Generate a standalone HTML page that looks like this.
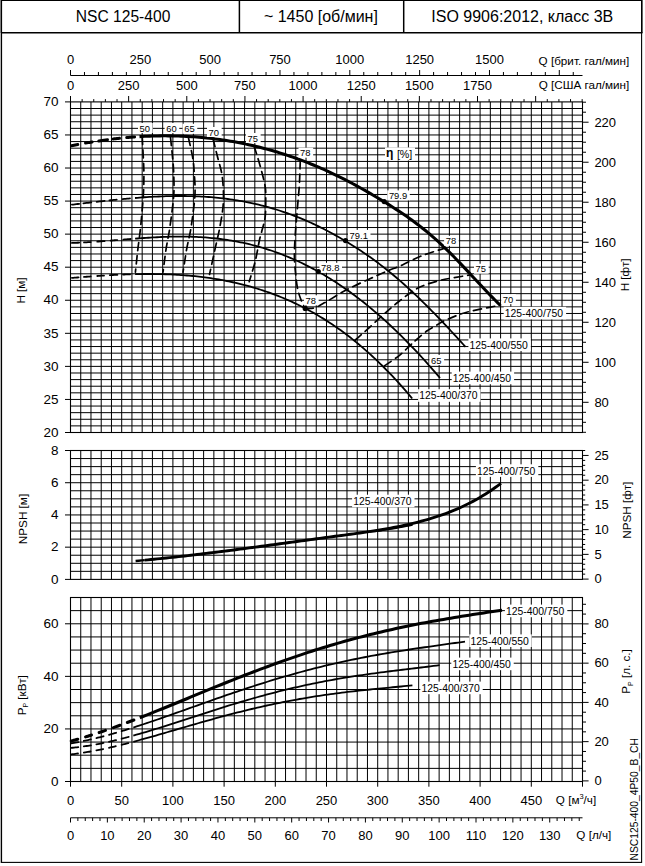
<!DOCTYPE html><html><head><meta charset="utf-8"><style>html,body{margin:0;padding:0;background:#fff}svg{display:block}</style></head><body><svg width="645" height="866" viewBox="0 0 645 866" font-family="'Liberation Sans', sans-serif" fill="#000"><rect x="0" y="0" width="645" height="866" fill="#fff"/>
<line x1="0.5" y1="0" x2="0.5" y2="33" stroke="#7c7c7c" stroke-width="1" />
<line x1="0.5" y1="33" x2="0.5" y2="863" stroke="#b4b4b4" stroke-width="1" />
<rect x="1.55" y="0.45" width="640.05" height="861.95" fill="none" stroke="#000" stroke-width="1.1"/>
<line x1="1" y1="32.7" x2="642.4" y2="32.7" stroke="#000" stroke-width="1.5" />
<line x1="239.4" y1="0" x2="239.4" y2="32.7" stroke="#000" stroke-width="1.5" />
<line x1="403.7" y1="0" x2="403.7" y2="32.7" stroke="#000" stroke-width="1.5" />
<line x1="641.8" y1="0" x2="641.8" y2="33" stroke="#000" stroke-width="1.5" />
<text x="123.1" y="22.3" font-size="15.6" text-anchor="middle" >NSC 125-400</text>
<text x="320.9" y="22.4" font-size="16" text-anchor="middle" >~ 1450 [об/мин]</text>
<text x="522.3" y="22.3" font-size="16" text-anchor="middle" >ISO 9906:2012, класс 3В</text>
<path d="M80.74,101.9V432.5M90.98,101.9V432.5M101.22,101.9V432.5M111.46,101.9V432.5M121.7,101.9V432.5M131.94,101.9V432.5M142.18,101.9V432.5M152.42,101.9V432.5M162.66,101.9V432.5M172.9,101.9V432.5M183.14,101.9V432.5M193.38,101.9V432.5M203.62,101.9V432.5M213.86,101.9V432.5M224.1,101.9V432.5M234.34,101.9V432.5M244.58,101.9V432.5M254.82,101.9V432.5M265.06,101.9V432.5M275.3,101.9V432.5M285.54,101.9V432.5M295.78,101.9V432.5M306.02,101.9V432.5M316.26,101.9V432.5M326.5,101.9V432.5M336.74,101.9V432.5M346.98,101.9V432.5M357.22,101.9V432.5M367.46,101.9V432.5M377.7,101.9V432.5M387.94,101.9V432.5M398.18,101.9V432.5M408.42,101.9V432.5M418.66,101.9V432.5M428.9,101.9V432.5M439.14,101.9V432.5M449.38,101.9V432.5M459.62,101.9V432.5M469.86,101.9V432.5M480.1,101.9V432.5M490.34,101.9V432.5M500.58,101.9V432.5M510.82,101.9V432.5M521.06,101.9V432.5M531.3,101.9V432.5M541.54,101.9V432.5M551.78,101.9V432.5M562.02,101.9V432.5M572.26,101.9V432.5M70.5,425.89H582.5M70.5,419.28H582.5M70.5,412.66H582.5M70.5,406.05H582.5M70.5,399.44H582.5M70.5,392.83H582.5M70.5,386.22H582.5M70.5,379.6H582.5M70.5,372.99H582.5M70.5,366.38H582.5M70.5,359.77H582.5M70.5,353.16H582.5M70.5,346.54H582.5M70.5,339.93H582.5M70.5,333.32H582.5M70.5,326.71H582.5M70.5,320.1H582.5M70.5,313.48H582.5M70.5,306.87H582.5M70.5,300.26H582.5M70.5,293.65H582.5M70.5,287.04H582.5M70.5,280.42H582.5M70.5,273.81H582.5M70.5,267.2H582.5M70.5,260.59H582.5M70.5,253.98H582.5M70.5,247.36H582.5M70.5,240.75H582.5M70.5,234.14H582.5M70.5,227.53H582.5M70.5,220.92H582.5M70.5,214.3H582.5M70.5,207.69H582.5M70.5,201.08H582.5M70.5,194.47H582.5M70.5,187.86H582.5M70.5,181.24H582.5M70.5,174.63H582.5M70.5,168.02H582.5M70.5,161.41H582.5M70.5,154.8H582.5M70.5,148.18H582.5M70.5,141.57H582.5M70.5,134.96H582.5M70.5,128.35H582.5M70.5,121.74H582.5M70.5,115.12H582.5M70.5,108.51H582.5" stroke="#000" stroke-width="1" fill="none"/>
<rect x="70.5" y="101.9" width="512" height="330.6" fill="none" stroke="#000" stroke-width="1.1"/>
<path d="M80.74,450.5V579.4M90.98,450.5V579.4M101.22,450.5V579.4M111.46,450.5V579.4M121.7,450.5V579.4M131.94,450.5V579.4M142.18,450.5V579.4M152.42,450.5V579.4M162.66,450.5V579.4M172.9,450.5V579.4M183.14,450.5V579.4M193.38,450.5V579.4M203.62,450.5V579.4M213.86,450.5V579.4M224.1,450.5V579.4M234.34,450.5V579.4M244.58,450.5V579.4M254.82,450.5V579.4M265.06,450.5V579.4M275.3,450.5V579.4M285.54,450.5V579.4M295.78,450.5V579.4M306.02,450.5V579.4M316.26,450.5V579.4M326.5,450.5V579.4M336.74,450.5V579.4M346.98,450.5V579.4M357.22,450.5V579.4M367.46,450.5V579.4M377.7,450.5V579.4M387.94,450.5V579.4M398.18,450.5V579.4M408.42,450.5V579.4M418.66,450.5V579.4M428.9,450.5V579.4M439.14,450.5V579.4M449.38,450.5V579.4M459.62,450.5V579.4M469.86,450.5V579.4M480.1,450.5V579.4M490.34,450.5V579.4M500.58,450.5V579.4M510.82,450.5V579.4M521.06,450.5V579.4M531.3,450.5V579.4M541.54,450.5V579.4M551.78,450.5V579.4M562.02,450.5V579.4M572.26,450.5V579.4M70.5,571.34H582.5M70.5,563.29H582.5M70.5,555.23H582.5M70.5,547.17H582.5M70.5,539.12H582.5M70.5,531.06H582.5M70.5,523.01H582.5M70.5,514.95H582.5M70.5,506.89H582.5M70.5,498.84H582.5M70.5,490.78H582.5M70.5,482.73H582.5M70.5,474.67H582.5M70.5,466.61H582.5M70.5,458.56H582.5" stroke="#000" stroke-width="1" fill="none"/>
<rect x="70.5" y="450.5" width="512" height="128.9" fill="none" stroke="#000" stroke-width="1.1"/>
<path d="M80.74,597.5V781.5M90.98,597.5V781.5M101.22,597.5V781.5M111.46,597.5V781.5M121.7,597.5V781.5M131.94,597.5V781.5M142.18,597.5V781.5M152.42,597.5V781.5M162.66,597.5V781.5M172.9,597.5V781.5M183.14,597.5V781.5M193.38,597.5V781.5M203.62,597.5V781.5M213.86,597.5V781.5M224.1,597.5V781.5M234.34,597.5V781.5M244.58,597.5V781.5M254.82,597.5V781.5M265.06,597.5V781.5M275.3,597.5V781.5M285.54,597.5V781.5M295.78,597.5V781.5M306.02,597.5V781.5M316.26,597.5V781.5M326.5,597.5V781.5M336.74,597.5V781.5M346.98,597.5V781.5M357.22,597.5V781.5M367.46,597.5V781.5M377.7,597.5V781.5M387.94,597.5V781.5M398.18,597.5V781.5M408.42,597.5V781.5M418.66,597.5V781.5M428.9,597.5V781.5M439.14,597.5V781.5M449.38,597.5V781.5M459.62,597.5V781.5M469.86,597.5V781.5M480.1,597.5V781.5M490.34,597.5V781.5M500.58,597.5V781.5M510.82,597.5V781.5M521.06,597.5V781.5M531.3,597.5V781.5M541.54,597.5V781.5M551.78,597.5V781.5M562.02,597.5V781.5M572.26,597.5V781.5M70.5,768.36H582.5M70.5,755.21H582.5M70.5,742.07H582.5M70.5,728.93H582.5M70.5,715.79H582.5M70.5,702.64H582.5M70.5,689.5H582.5M70.5,676.36H582.5M70.5,663.21H582.5M70.5,650.07H582.5M70.5,636.93H582.5M70.5,623.79H582.5M70.5,610.64H582.5" stroke="#000" stroke-width="1" fill="none"/>
<rect x="70.5" y="597.5" width="512" height="184" fill="none" stroke="#000" stroke-width="1.1"/>
<line x1="70.5" y1="75.5" x2="582.5" y2="75.5" stroke="#000" stroke-width="1" />
<line x1="70.5" y1="75.5" x2="70.5" y2="70" stroke="#000" stroke-width="1" />
<text x="70.5" y="64.3" font-size="13" text-anchor="middle" >0</text>
<line x1="84.47" y1="75.5" x2="84.47" y2="72" stroke="#000" stroke-width="1" />
<line x1="98.43" y1="75.5" x2="98.43" y2="72" stroke="#000" stroke-width="1" />
<line x1="112.4" y1="75.5" x2="112.4" y2="72" stroke="#000" stroke-width="1" />
<line x1="126.36" y1="75.5" x2="126.36" y2="72" stroke="#000" stroke-width="1" />
<line x1="140.33" y1="75.5" x2="140.33" y2="70" stroke="#000" stroke-width="1" />
<text x="140.33" y="64.3" font-size="13" text-anchor="middle" >250</text>
<line x1="154.29" y1="75.5" x2="154.29" y2="72" stroke="#000" stroke-width="1" />
<line x1="168.26" y1="75.5" x2="168.26" y2="72" stroke="#000" stroke-width="1" />
<line x1="182.22" y1="75.5" x2="182.22" y2="72" stroke="#000" stroke-width="1" />
<line x1="196.19" y1="75.5" x2="196.19" y2="72" stroke="#000" stroke-width="1" />
<line x1="210.16" y1="75.5" x2="210.16" y2="70" stroke="#000" stroke-width="1" />
<text x="210.16" y="64.3" font-size="13" text-anchor="middle" >500</text>
<line x1="224.12" y1="75.5" x2="224.12" y2="72" stroke="#000" stroke-width="1" />
<line x1="238.09" y1="75.5" x2="238.09" y2="72" stroke="#000" stroke-width="1" />
<line x1="252.05" y1="75.5" x2="252.05" y2="72" stroke="#000" stroke-width="1" />
<line x1="266.02" y1="75.5" x2="266.02" y2="72" stroke="#000" stroke-width="1" />
<line x1="279.98" y1="75.5" x2="279.98" y2="70" stroke="#000" stroke-width="1" />
<text x="279.98" y="64.3" font-size="13" text-anchor="middle" >750</text>
<line x1="293.95" y1="75.5" x2="293.95" y2="72" stroke="#000" stroke-width="1" />
<line x1="307.91" y1="75.5" x2="307.91" y2="72" stroke="#000" stroke-width="1" />
<line x1="321.88" y1="75.5" x2="321.88" y2="72" stroke="#000" stroke-width="1" />
<line x1="335.85" y1="75.5" x2="335.85" y2="72" stroke="#000" stroke-width="1" />
<line x1="349.81" y1="75.5" x2="349.81" y2="70" stroke="#000" stroke-width="1" />
<text x="349.81" y="64.3" font-size="13" text-anchor="middle" >1000</text>
<line x1="363.78" y1="75.5" x2="363.78" y2="72" stroke="#000" stroke-width="1" />
<line x1="377.74" y1="75.5" x2="377.74" y2="72" stroke="#000" stroke-width="1" />
<line x1="391.71" y1="75.5" x2="391.71" y2="72" stroke="#000" stroke-width="1" />
<line x1="405.67" y1="75.5" x2="405.67" y2="72" stroke="#000" stroke-width="1" />
<line x1="419.64" y1="75.5" x2="419.64" y2="70" stroke="#000" stroke-width="1" />
<text x="419.64" y="64.3" font-size="13" text-anchor="middle" >1250</text>
<line x1="433.6" y1="75.5" x2="433.6" y2="72" stroke="#000" stroke-width="1" />
<line x1="447.57" y1="75.5" x2="447.57" y2="72" stroke="#000" stroke-width="1" />
<line x1="461.54" y1="75.5" x2="461.54" y2="72" stroke="#000" stroke-width="1" />
<line x1="475.5" y1="75.5" x2="475.5" y2="72" stroke="#000" stroke-width="1" />
<line x1="489.47" y1="75.5" x2="489.47" y2="70" stroke="#000" stroke-width="1" />
<text x="489.47" y="64.3" font-size="13" text-anchor="middle" >1500</text>
<line x1="503.43" y1="75.5" x2="503.43" y2="72" stroke="#000" stroke-width="1" />
<line x1="517.4" y1="75.5" x2="517.4" y2="72" stroke="#000" stroke-width="1" />
<line x1="531.36" y1="75.5" x2="531.36" y2="72" stroke="#000" stroke-width="1" />
<line x1="545.33" y1="75.5" x2="545.33" y2="72" stroke="#000" stroke-width="1" />
<line x1="559.29" y1="75.5" x2="559.29" y2="70" stroke="#000" stroke-width="1" />
<line x1="573.26" y1="75.5" x2="573.26" y2="72" stroke="#000" stroke-width="1" />
<text x="629.3" y="64.5" font-size="11.7" text-anchor="end" >Q [брит. гал/мин]</text>
<line x1="70.5" y1="101.9" x2="70.5" y2="96" stroke="#000" stroke-width="1" />
<text x="70.5" y="89.5" font-size="13" text-anchor="middle" >0</text>
<line x1="82.13" y1="101.9" x2="82.13" y2="99.1" stroke="#000" stroke-width="1" />
<line x1="93.76" y1="101.9" x2="93.76" y2="99.1" stroke="#000" stroke-width="1" />
<line x1="105.39" y1="101.9" x2="105.39" y2="99.1" stroke="#000" stroke-width="1" />
<line x1="117.02" y1="101.9" x2="117.02" y2="99.1" stroke="#000" stroke-width="1" />
<line x1="128.64" y1="101.9" x2="128.64" y2="96" stroke="#000" stroke-width="1" />
<text x="128.64" y="89.5" font-size="13" text-anchor="middle" >250</text>
<line x1="140.27" y1="101.9" x2="140.27" y2="99.1" stroke="#000" stroke-width="1" />
<line x1="151.9" y1="101.9" x2="151.9" y2="99.1" stroke="#000" stroke-width="1" />
<line x1="163.53" y1="101.9" x2="163.53" y2="99.1" stroke="#000" stroke-width="1" />
<line x1="175.16" y1="101.9" x2="175.16" y2="99.1" stroke="#000" stroke-width="1" />
<line x1="186.79" y1="101.9" x2="186.79" y2="96" stroke="#000" stroke-width="1" />
<text x="186.79" y="89.5" font-size="13" text-anchor="middle" >500</text>
<line x1="198.42" y1="101.9" x2="198.42" y2="99.1" stroke="#000" stroke-width="1" />
<line x1="210.05" y1="101.9" x2="210.05" y2="99.1" stroke="#000" stroke-width="1" />
<line x1="221.67" y1="101.9" x2="221.67" y2="99.1" stroke="#000" stroke-width="1" />
<line x1="233.3" y1="101.9" x2="233.3" y2="99.1" stroke="#000" stroke-width="1" />
<line x1="244.93" y1="101.9" x2="244.93" y2="96" stroke="#000" stroke-width="1" />
<text x="244.93" y="89.5" font-size="13" text-anchor="middle" >750</text>
<line x1="256.56" y1="101.9" x2="256.56" y2="99.1" stroke="#000" stroke-width="1" />
<line x1="268.19" y1="101.9" x2="268.19" y2="99.1" stroke="#000" stroke-width="1" />
<line x1="279.82" y1="101.9" x2="279.82" y2="99.1" stroke="#000" stroke-width="1" />
<line x1="291.45" y1="101.9" x2="291.45" y2="99.1" stroke="#000" stroke-width="1" />
<line x1="303.08" y1="101.9" x2="303.08" y2="96" stroke="#000" stroke-width="1" />
<text x="303.08" y="89.5" font-size="13" text-anchor="middle" >1000</text>
<line x1="314.7" y1="101.9" x2="314.7" y2="99.1" stroke="#000" stroke-width="1" />
<line x1="326.33" y1="101.9" x2="326.33" y2="99.1" stroke="#000" stroke-width="1" />
<line x1="337.96" y1="101.9" x2="337.96" y2="99.1" stroke="#000" stroke-width="1" />
<line x1="349.59" y1="101.9" x2="349.59" y2="99.1" stroke="#000" stroke-width="1" />
<line x1="361.22" y1="101.9" x2="361.22" y2="96" stroke="#000" stroke-width="1" />
<text x="361.22" y="89.5" font-size="13" text-anchor="middle" >1250</text>
<line x1="372.85" y1="101.9" x2="372.85" y2="99.1" stroke="#000" stroke-width="1" />
<line x1="384.48" y1="101.9" x2="384.48" y2="99.1" stroke="#000" stroke-width="1" />
<line x1="396.11" y1="101.9" x2="396.11" y2="99.1" stroke="#000" stroke-width="1" />
<line x1="407.74" y1="101.9" x2="407.74" y2="99.1" stroke="#000" stroke-width="1" />
<line x1="419.36" y1="101.9" x2="419.36" y2="96" stroke="#000" stroke-width="1" />
<text x="419.36" y="89.5" font-size="13" text-anchor="middle" >1500</text>
<line x1="430.99" y1="101.9" x2="430.99" y2="99.1" stroke="#000" stroke-width="1" />
<line x1="442.62" y1="101.9" x2="442.62" y2="99.1" stroke="#000" stroke-width="1" />
<line x1="454.25" y1="101.9" x2="454.25" y2="99.1" stroke="#000" stroke-width="1" />
<line x1="465.88" y1="101.9" x2="465.88" y2="99.1" stroke="#000" stroke-width="1" />
<line x1="477.51" y1="101.9" x2="477.51" y2="96" stroke="#000" stroke-width="1" />
<text x="477.51" y="89.5" font-size="13" text-anchor="middle" >1750</text>
<line x1="489.14" y1="101.9" x2="489.14" y2="99.1" stroke="#000" stroke-width="1" />
<line x1="500.77" y1="101.9" x2="500.77" y2="99.1" stroke="#000" stroke-width="1" />
<line x1="512.39" y1="101.9" x2="512.39" y2="99.1" stroke="#000" stroke-width="1" />
<line x1="524.02" y1="101.9" x2="524.02" y2="99.1" stroke="#000" stroke-width="1" />
<line x1="535.65" y1="101.9" x2="535.65" y2="96" stroke="#000" stroke-width="1" />
<line x1="547.28" y1="101.9" x2="547.28" y2="99.1" stroke="#000" stroke-width="1" />
<line x1="558.91" y1="101.9" x2="558.91" y2="99.1" stroke="#000" stroke-width="1" />
<line x1="570.54" y1="101.9" x2="570.54" y2="99.1" stroke="#000" stroke-width="1" />
<line x1="582.17" y1="101.9" x2="582.17" y2="99.1" stroke="#000" stroke-width="1" />
<text x="629.3" y="88.5" font-size="11.7" text-anchor="end" >Q [США гал/мин]</text>
<line x1="65" y1="432.5" x2="70.5" y2="432.5" stroke="#000" stroke-width="1" />
<text x="58.6" y="436.7" font-size="13.5" text-anchor="end" >20</text>
<line x1="65" y1="399.44" x2="70.5" y2="399.44" stroke="#000" stroke-width="1" />
<text x="58.6" y="403.64" font-size="13.5" text-anchor="end" >25</text>
<line x1="65" y1="366.38" x2="70.5" y2="366.38" stroke="#000" stroke-width="1" />
<text x="58.6" y="370.58" font-size="13.5" text-anchor="end" >30</text>
<line x1="65" y1="333.32" x2="70.5" y2="333.32" stroke="#000" stroke-width="1" />
<text x="58.6" y="337.52" font-size="13.5" text-anchor="end" >35</text>
<line x1="65" y1="300.26" x2="70.5" y2="300.26" stroke="#000" stroke-width="1" />
<text x="58.6" y="304.46" font-size="13.5" text-anchor="end" >40</text>
<line x1="65" y1="267.2" x2="70.5" y2="267.2" stroke="#000" stroke-width="1" />
<text x="58.6" y="271.4" font-size="13.5" text-anchor="end" >45</text>
<line x1="65" y1="234.14" x2="70.5" y2="234.14" stroke="#000" stroke-width="1" />
<text x="58.6" y="238.34" font-size="13.5" text-anchor="end" >50</text>
<line x1="65" y1="201.08" x2="70.5" y2="201.08" stroke="#000" stroke-width="1" />
<text x="58.6" y="205.28" font-size="13.5" text-anchor="end" >55</text>
<line x1="65" y1="168.02" x2="70.5" y2="168.02" stroke="#000" stroke-width="1" />
<text x="58.6" y="172.22" font-size="13.5" text-anchor="end" >60</text>
<line x1="65" y1="134.96" x2="70.5" y2="134.96" stroke="#000" stroke-width="1" />
<text x="58.6" y="139.16" font-size="13.5" text-anchor="end" >65</text>
<line x1="65" y1="101.9" x2="70.5" y2="101.9" stroke="#000" stroke-width="1" />
<text x="58.6" y="106.1" font-size="13.5" text-anchor="end" >70</text>
<line x1="582.5" y1="432.31" x2="586" y2="432.31" stroke="#000" stroke-width="1" />
<line x1="582.5" y1="422.31" x2="586" y2="422.31" stroke="#000" stroke-width="1" />
<line x1="582.5" y1="412.31" x2="586" y2="412.31" stroke="#000" stroke-width="1" />
<line x1="582.5" y1="402.3" x2="588.6" y2="402.3" stroke="#000" stroke-width="1" />
<text x="594.4" y="406.6" font-size="13" text-anchor="start" >80</text>
<line x1="582.5" y1="392.3" x2="586" y2="392.3" stroke="#000" stroke-width="1" />
<line x1="582.5" y1="382.3" x2="586" y2="382.3" stroke="#000" stroke-width="1" />
<line x1="582.5" y1="372.29" x2="586" y2="372.29" stroke="#000" stroke-width="1" />
<line x1="582.5" y1="362.29" x2="588.6" y2="362.29" stroke="#000" stroke-width="1" />
<text x="594.4" y="366.59" font-size="13" text-anchor="start" >100</text>
<line x1="582.5" y1="352.29" x2="586" y2="352.29" stroke="#000" stroke-width="1" />
<line x1="582.5" y1="342.28" x2="586" y2="342.28" stroke="#000" stroke-width="1" />
<line x1="582.5" y1="332.28" x2="586" y2="332.28" stroke="#000" stroke-width="1" />
<line x1="582.5" y1="322.28" x2="588.6" y2="322.28" stroke="#000" stroke-width="1" />
<text x="594.4" y="326.58" font-size="13" text-anchor="start" >120</text>
<line x1="582.5" y1="312.27" x2="586" y2="312.27" stroke="#000" stroke-width="1" />
<line x1="582.5" y1="302.27" x2="586" y2="302.27" stroke="#000" stroke-width="1" />
<line x1="582.5" y1="292.27" x2="586" y2="292.27" stroke="#000" stroke-width="1" />
<line x1="582.5" y1="282.26" x2="588.6" y2="282.26" stroke="#000" stroke-width="1" />
<text x="594.4" y="286.56" font-size="13" text-anchor="start" >140</text>
<line x1="582.5" y1="272.26" x2="586" y2="272.26" stroke="#000" stroke-width="1" />
<line x1="582.5" y1="262.25" x2="586" y2="262.25" stroke="#000" stroke-width="1" />
<line x1="582.5" y1="252.25" x2="586" y2="252.25" stroke="#000" stroke-width="1" />
<line x1="582.5" y1="242.25" x2="588.6" y2="242.25" stroke="#000" stroke-width="1" />
<text x="594.4" y="246.55" font-size="13" text-anchor="start" >160</text>
<line x1="582.5" y1="232.24" x2="586" y2="232.24" stroke="#000" stroke-width="1" />
<line x1="582.5" y1="222.24" x2="586" y2="222.24" stroke="#000" stroke-width="1" />
<line x1="582.5" y1="212.24" x2="586" y2="212.24" stroke="#000" stroke-width="1" />
<line x1="582.5" y1="202.23" x2="588.6" y2="202.23" stroke="#000" stroke-width="1" />
<text x="594.4" y="206.53" font-size="13" text-anchor="start" >180</text>
<line x1="582.5" y1="192.23" x2="586" y2="192.23" stroke="#000" stroke-width="1" />
<line x1="582.5" y1="182.23" x2="586" y2="182.23" stroke="#000" stroke-width="1" />
<line x1="582.5" y1="172.22" x2="586" y2="172.22" stroke="#000" stroke-width="1" />
<line x1="582.5" y1="162.22" x2="588.6" y2="162.22" stroke="#000" stroke-width="1" />
<text x="594.4" y="166.52" font-size="13" text-anchor="start" >200</text>
<line x1="582.5" y1="152.22" x2="586" y2="152.22" stroke="#000" stroke-width="1" />
<line x1="582.5" y1="142.21" x2="586" y2="142.21" stroke="#000" stroke-width="1" />
<line x1="582.5" y1="132.21" x2="586" y2="132.21" stroke="#000" stroke-width="1" />
<line x1="582.5" y1="122.21" x2="588.6" y2="122.21" stroke="#000" stroke-width="1" />
<text x="594.4" y="126.51" font-size="13" text-anchor="start" >220</text>
<line x1="582.5" y1="112.2" x2="586" y2="112.2" stroke="#000" stroke-width="1" />
<line x1="582.5" y1="102.2" x2="586" y2="102.2" stroke="#000" stroke-width="1" />
<text x="0" y="0" font-size="11.7" text-anchor="middle" transform="translate(25.1,290.5) rotate(-90)">H [м]</text>
<text x="0" y="0" font-size="11.7" text-anchor="middle" transform="translate(629.4,274.9) rotate(-90)">H [фт]</text>
<line x1="65" y1="579.4" x2="70.5" y2="579.4" stroke="#000" stroke-width="1" />
<text x="58.6" y="583.6" font-size="13.5" text-anchor="end" >0</text>
<line x1="65" y1="547.17" x2="70.5" y2="547.17" stroke="#000" stroke-width="1" />
<text x="58.6" y="551.38" font-size="13.5" text-anchor="end" >2</text>
<line x1="65" y1="514.95" x2="70.5" y2="514.95" stroke="#000" stroke-width="1" />
<text x="58.6" y="519.15" font-size="13.5" text-anchor="end" >4</text>
<line x1="65" y1="482.73" x2="70.5" y2="482.73" stroke="#000" stroke-width="1" />
<text x="58.6" y="486.93" font-size="13.5" text-anchor="end" >6</text>
<line x1="65" y1="450.5" x2="70.5" y2="450.5" stroke="#000" stroke-width="1" />
<text x="58.6" y="454.7" font-size="13.5" text-anchor="end" >8</text>
<line x1="582.5" y1="579.1" x2="588.6" y2="579.1" stroke="#000" stroke-width="1" />
<text x="594.4" y="583.4" font-size="13" text-anchor="start" >0</text>
<line x1="582.5" y1="574.15" x2="585.2" y2="574.15" stroke="#000" stroke-width="1" />
<line x1="582.5" y1="569.21" x2="585.2" y2="569.21" stroke="#000" stroke-width="1" />
<line x1="582.5" y1="564.26" x2="585.2" y2="564.26" stroke="#000" stroke-width="1" />
<line x1="582.5" y1="559.32" x2="585.2" y2="559.32" stroke="#000" stroke-width="1" />
<line x1="582.5" y1="554.37" x2="588.6" y2="554.37" stroke="#000" stroke-width="1" />
<text x="594.4" y="558.67" font-size="13" text-anchor="start" >5</text>
<line x1="582.5" y1="549.42" x2="585.2" y2="549.42" stroke="#000" stroke-width="1" />
<line x1="582.5" y1="544.48" x2="585.2" y2="544.48" stroke="#000" stroke-width="1" />
<line x1="582.5" y1="539.53" x2="585.2" y2="539.53" stroke="#000" stroke-width="1" />
<line x1="582.5" y1="534.59" x2="585.2" y2="534.59" stroke="#000" stroke-width="1" />
<line x1="582.5" y1="529.64" x2="588.6" y2="529.64" stroke="#000" stroke-width="1" />
<text x="594.4" y="533.94" font-size="13" text-anchor="start" >10</text>
<line x1="582.5" y1="524.69" x2="585.2" y2="524.69" stroke="#000" stroke-width="1" />
<line x1="582.5" y1="519.75" x2="585.2" y2="519.75" stroke="#000" stroke-width="1" />
<line x1="582.5" y1="514.8" x2="585.2" y2="514.8" stroke="#000" stroke-width="1" />
<line x1="582.5" y1="509.86" x2="585.2" y2="509.86" stroke="#000" stroke-width="1" />
<line x1="582.5" y1="504.91" x2="588.6" y2="504.91" stroke="#000" stroke-width="1" />
<text x="594.4" y="509.21" font-size="13" text-anchor="start" >15</text>
<line x1="582.5" y1="499.96" x2="585.2" y2="499.96" stroke="#000" stroke-width="1" />
<line x1="582.5" y1="495.02" x2="585.2" y2="495.02" stroke="#000" stroke-width="1" />
<line x1="582.5" y1="490.07" x2="585.2" y2="490.07" stroke="#000" stroke-width="1" />
<line x1="582.5" y1="485.13" x2="585.2" y2="485.13" stroke="#000" stroke-width="1" />
<line x1="582.5" y1="480.18" x2="588.6" y2="480.18" stroke="#000" stroke-width="1" />
<text x="594.4" y="484.48" font-size="13" text-anchor="start" >20</text>
<line x1="582.5" y1="475.23" x2="585.2" y2="475.23" stroke="#000" stroke-width="1" />
<line x1="582.5" y1="470.29" x2="585.2" y2="470.29" stroke="#000" stroke-width="1" />
<line x1="582.5" y1="465.34" x2="585.2" y2="465.34" stroke="#000" stroke-width="1" />
<line x1="582.5" y1="460.4" x2="585.2" y2="460.4" stroke="#000" stroke-width="1" />
<line x1="582.5" y1="455.45" x2="588.6" y2="455.45" stroke="#000" stroke-width="1" />
<text x="594.4" y="459.75" font-size="13" text-anchor="start" >25</text>
<line x1="582.5" y1="450.5" x2="585.2" y2="450.5" stroke="#000" stroke-width="1" />
<text x="0" y="0" font-size="11.7" text-anchor="middle" transform="translate(26.6,519) rotate(-90)">NPSH [м]</text>
<text x="0" y="0" font-size="11.7" text-anchor="middle" transform="translate(630.8,510.2) rotate(-90)">NPSH [фт]</text>
<line x1="65" y1="781.5" x2="70.5" y2="781.5" stroke="#000" stroke-width="1" />
<text x="58.6" y="785.7" font-size="13.5" text-anchor="end" >0</text>
<line x1="65" y1="728.93" x2="70.5" y2="728.93" stroke="#000" stroke-width="1" />
<text x="58.6" y="733.13" font-size="13.5" text-anchor="end" >20</text>
<line x1="65" y1="676.36" x2="70.5" y2="676.36" stroke="#000" stroke-width="1" />
<text x="58.6" y="680.56" font-size="13.5" text-anchor="end" >40</text>
<line x1="65" y1="623.79" x2="70.5" y2="623.79" stroke="#000" stroke-width="1" />
<text x="58.6" y="627.99" font-size="13.5" text-anchor="end" >60</text>
<line x1="582.5" y1="780.9" x2="588.6" y2="780.9" stroke="#000" stroke-width="1" />
<text x="594.4" y="785.2" font-size="13" text-anchor="start" >0</text>
<line x1="582.5" y1="771.09" x2="586" y2="771.09" stroke="#000" stroke-width="1" />
<line x1="582.5" y1="761.27" x2="586" y2="761.27" stroke="#000" stroke-width="1" />
<line x1="582.5" y1="751.46" x2="586" y2="751.46" stroke="#000" stroke-width="1" />
<line x1="582.5" y1="741.65" x2="588.6" y2="741.65" stroke="#000" stroke-width="1" />
<text x="594.4" y="745.95" font-size="13" text-anchor="start" >20</text>
<line x1="582.5" y1="731.84" x2="586" y2="731.84" stroke="#000" stroke-width="1" />
<line x1="582.5" y1="722.02" x2="586" y2="722.02" stroke="#000" stroke-width="1" />
<line x1="582.5" y1="712.21" x2="586" y2="712.21" stroke="#000" stroke-width="1" />
<line x1="582.5" y1="702.4" x2="588.6" y2="702.4" stroke="#000" stroke-width="1" />
<text x="594.4" y="706.7" font-size="13" text-anchor="start" >40</text>
<line x1="582.5" y1="692.59" x2="586" y2="692.59" stroke="#000" stroke-width="1" />
<line x1="582.5" y1="682.77" x2="586" y2="682.77" stroke="#000" stroke-width="1" />
<line x1="582.5" y1="672.96" x2="586" y2="672.96" stroke="#000" stroke-width="1" />
<line x1="582.5" y1="663.15" x2="588.6" y2="663.15" stroke="#000" stroke-width="1" />
<text x="594.4" y="667.45" font-size="13" text-anchor="start" >60</text>
<line x1="582.5" y1="653.34" x2="586" y2="653.34" stroke="#000" stroke-width="1" />
<line x1="582.5" y1="643.52" x2="586" y2="643.52" stroke="#000" stroke-width="1" />
<line x1="582.5" y1="633.71" x2="586" y2="633.71" stroke="#000" stroke-width="1" />
<line x1="582.5" y1="623.9" x2="588.6" y2="623.9" stroke="#000" stroke-width="1" />
<text x="594.4" y="628.2" font-size="13" text-anchor="start" >80</text>
<line x1="582.5" y1="614.09" x2="586" y2="614.09" stroke="#000" stroke-width="1" />
<line x1="582.5" y1="604.27" x2="586" y2="604.27" stroke="#000" stroke-width="1" />
<text transform="translate(25.9,695.3) rotate(-90)" font-size="11.7" text-anchor="middle">P<tspan font-size="7" dy="2.5">P</tspan><tspan dy="-2.5"> [кВт]</tspan></text>
<text transform="translate(630.4,671.5) rotate(-90)" font-size="11.7" text-anchor="middle">P<tspan font-size="7" dy="2.5">P</tspan><tspan dy="-2.5"> [л. с.]</tspan></text>
<line x1="70.5" y1="781.5" x2="70.5" y2="786.7" stroke="#000" stroke-width="1" />
<text x="70.5" y="805.2" font-size="13" text-anchor="middle" >0</text>
<line x1="121.7" y1="781.5" x2="121.7" y2="786.7" stroke="#000" stroke-width="1" />
<text x="121.7" y="805.2" font-size="13" text-anchor="middle" >50</text>
<line x1="172.9" y1="781.5" x2="172.9" y2="786.7" stroke="#000" stroke-width="1" />
<text x="172.9" y="805.2" font-size="13" text-anchor="middle" >100</text>
<line x1="224.1" y1="781.5" x2="224.1" y2="786.7" stroke="#000" stroke-width="1" />
<text x="224.1" y="805.2" font-size="13" text-anchor="middle" >150</text>
<line x1="275.3" y1="781.5" x2="275.3" y2="786.7" stroke="#000" stroke-width="1" />
<text x="275.3" y="805.2" font-size="13" text-anchor="middle" >200</text>
<line x1="326.5" y1="781.5" x2="326.5" y2="786.7" stroke="#000" stroke-width="1" />
<text x="326.5" y="805.2" font-size="13" text-anchor="middle" >250</text>
<line x1="377.7" y1="781.5" x2="377.7" y2="786.7" stroke="#000" stroke-width="1" />
<text x="377.7" y="805.2" font-size="13" text-anchor="middle" >300</text>
<line x1="428.9" y1="781.5" x2="428.9" y2="786.7" stroke="#000" stroke-width="1" />
<text x="428.9" y="805.2" font-size="13" text-anchor="middle" >350</text>
<line x1="480.1" y1="781.5" x2="480.1" y2="786.7" stroke="#000" stroke-width="1" />
<text x="480.1" y="805.2" font-size="13" text-anchor="middle" >400</text>
<line x1="531.3" y1="781.5" x2="531.3" y2="786.7" stroke="#000" stroke-width="1" />
<text x="531.3" y="805.2" font-size="13" text-anchor="middle" >450</text>
<line x1="582.5" y1="781.5" x2="582.5" y2="786.7" stroke="#000" stroke-width="1" />
<text x="555.8" y="803.8" font-size="11.7">Q [м<tspan font-size="7.5" dy="-4.5">3</tspan><tspan dy="4.5">/ч]</tspan></text>
<line x1="70.5" y1="817.8" x2="582.5" y2="817.8" stroke="#000" stroke-width="1" />
<line x1="70.5" y1="817.8" x2="70.5" y2="822.5" stroke="#000" stroke-width="1" />
<text x="70.5" y="840.2" font-size="13" text-anchor="middle" >0</text>
<line x1="77.87" y1="817.8" x2="77.87" y2="821" stroke="#000" stroke-width="1" />
<line x1="85.25" y1="817.8" x2="85.25" y2="821" stroke="#000" stroke-width="1" />
<line x1="92.62" y1="817.8" x2="92.62" y2="821" stroke="#000" stroke-width="1" />
<line x1="99.99" y1="817.8" x2="99.99" y2="821" stroke="#000" stroke-width="1" />
<line x1="107.36" y1="817.8" x2="107.36" y2="822.5" stroke="#000" stroke-width="1" />
<text x="107.36" y="840.2" font-size="13" text-anchor="middle" >10</text>
<line x1="114.74" y1="817.8" x2="114.74" y2="821" stroke="#000" stroke-width="1" />
<line x1="122.11" y1="817.8" x2="122.11" y2="821" stroke="#000" stroke-width="1" />
<line x1="129.48" y1="817.8" x2="129.48" y2="821" stroke="#000" stroke-width="1" />
<line x1="136.86" y1="817.8" x2="136.86" y2="821" stroke="#000" stroke-width="1" />
<line x1="144.23" y1="817.8" x2="144.23" y2="822.5" stroke="#000" stroke-width="1" />
<text x="144.23" y="840.2" font-size="13" text-anchor="middle" >20</text>
<line x1="151.6" y1="817.8" x2="151.6" y2="821" stroke="#000" stroke-width="1" />
<line x1="158.97" y1="817.8" x2="158.97" y2="821" stroke="#000" stroke-width="1" />
<line x1="166.35" y1="817.8" x2="166.35" y2="821" stroke="#000" stroke-width="1" />
<line x1="173.72" y1="817.8" x2="173.72" y2="821" stroke="#000" stroke-width="1" />
<line x1="181.09" y1="817.8" x2="181.09" y2="822.5" stroke="#000" stroke-width="1" />
<text x="181.09" y="840.2" font-size="13" text-anchor="middle" >30</text>
<line x1="188.46" y1="817.8" x2="188.46" y2="821" stroke="#000" stroke-width="1" />
<line x1="195.84" y1="817.8" x2="195.84" y2="821" stroke="#000" stroke-width="1" />
<line x1="203.21" y1="817.8" x2="203.21" y2="821" stroke="#000" stroke-width="1" />
<line x1="210.58" y1="817.8" x2="210.58" y2="821" stroke="#000" stroke-width="1" />
<line x1="217.96" y1="817.8" x2="217.96" y2="822.5" stroke="#000" stroke-width="1" />
<text x="217.96" y="840.2" font-size="13" text-anchor="middle" >40</text>
<line x1="225.33" y1="817.8" x2="225.33" y2="821" stroke="#000" stroke-width="1" />
<line x1="232.7" y1="817.8" x2="232.7" y2="821" stroke="#000" stroke-width="1" />
<line x1="240.07" y1="817.8" x2="240.07" y2="821" stroke="#000" stroke-width="1" />
<line x1="247.45" y1="817.8" x2="247.45" y2="821" stroke="#000" stroke-width="1" />
<line x1="254.82" y1="817.8" x2="254.82" y2="822.5" stroke="#000" stroke-width="1" />
<text x="254.82" y="840.2" font-size="13" text-anchor="middle" >50</text>
<line x1="262.19" y1="817.8" x2="262.19" y2="821" stroke="#000" stroke-width="1" />
<line x1="269.57" y1="817.8" x2="269.57" y2="821" stroke="#000" stroke-width="1" />
<line x1="276.94" y1="817.8" x2="276.94" y2="821" stroke="#000" stroke-width="1" />
<line x1="284.31" y1="817.8" x2="284.31" y2="821" stroke="#000" stroke-width="1" />
<line x1="291.68" y1="817.8" x2="291.68" y2="822.5" stroke="#000" stroke-width="1" />
<text x="291.68" y="840.2" font-size="13" text-anchor="middle" >60</text>
<line x1="299.06" y1="817.8" x2="299.06" y2="821" stroke="#000" stroke-width="1" />
<line x1="306.43" y1="817.8" x2="306.43" y2="821" stroke="#000" stroke-width="1" />
<line x1="313.8" y1="817.8" x2="313.8" y2="821" stroke="#000" stroke-width="1" />
<line x1="321.18" y1="817.8" x2="321.18" y2="821" stroke="#000" stroke-width="1" />
<line x1="328.55" y1="817.8" x2="328.55" y2="822.5" stroke="#000" stroke-width="1" />
<text x="328.55" y="840.2" font-size="13" text-anchor="middle" >70</text>
<line x1="335.92" y1="817.8" x2="335.92" y2="821" stroke="#000" stroke-width="1" />
<line x1="343.29" y1="817.8" x2="343.29" y2="821" stroke="#000" stroke-width="1" />
<line x1="350.67" y1="817.8" x2="350.67" y2="821" stroke="#000" stroke-width="1" />
<line x1="358.04" y1="817.8" x2="358.04" y2="821" stroke="#000" stroke-width="1" />
<line x1="365.41" y1="817.8" x2="365.41" y2="822.5" stroke="#000" stroke-width="1" />
<text x="365.41" y="840.2" font-size="13" text-anchor="middle" >80</text>
<line x1="372.78" y1="817.8" x2="372.78" y2="821" stroke="#000" stroke-width="1" />
<line x1="380.16" y1="817.8" x2="380.16" y2="821" stroke="#000" stroke-width="1" />
<line x1="387.53" y1="817.8" x2="387.53" y2="821" stroke="#000" stroke-width="1" />
<line x1="394.9" y1="817.8" x2="394.9" y2="821" stroke="#000" stroke-width="1" />
<line x1="402.28" y1="817.8" x2="402.28" y2="822.5" stroke="#000" stroke-width="1" />
<text x="402.28" y="840.2" font-size="13" text-anchor="middle" >90</text>
<line x1="409.65" y1="817.8" x2="409.65" y2="821" stroke="#000" stroke-width="1" />
<line x1="417.02" y1="817.8" x2="417.02" y2="821" stroke="#000" stroke-width="1" />
<line x1="424.39" y1="817.8" x2="424.39" y2="821" stroke="#000" stroke-width="1" />
<line x1="431.77" y1="817.8" x2="431.77" y2="821" stroke="#000" stroke-width="1" />
<line x1="439.14" y1="817.8" x2="439.14" y2="822.5" stroke="#000" stroke-width="1" />
<text x="439.14" y="840.2" font-size="13" text-anchor="middle" >100</text>
<line x1="446.51" y1="817.8" x2="446.51" y2="821" stroke="#000" stroke-width="1" />
<line x1="453.89" y1="817.8" x2="453.89" y2="821" stroke="#000" stroke-width="1" />
<line x1="461.26" y1="817.8" x2="461.26" y2="821" stroke="#000" stroke-width="1" />
<line x1="468.63" y1="817.8" x2="468.63" y2="821" stroke="#000" stroke-width="1" />
<line x1="476" y1="817.8" x2="476" y2="822.5" stroke="#000" stroke-width="1" />
<text x="476" y="840.2" font-size="13" text-anchor="middle" >110</text>
<line x1="483.38" y1="817.8" x2="483.38" y2="821" stroke="#000" stroke-width="1" />
<line x1="490.75" y1="817.8" x2="490.75" y2="821" stroke="#000" stroke-width="1" />
<line x1="498.12" y1="817.8" x2="498.12" y2="821" stroke="#000" stroke-width="1" />
<line x1="505.5" y1="817.8" x2="505.5" y2="821" stroke="#000" stroke-width="1" />
<line x1="512.87" y1="817.8" x2="512.87" y2="822.5" stroke="#000" stroke-width="1" />
<text x="512.87" y="840.2" font-size="13" text-anchor="middle" >120</text>
<line x1="520.24" y1="817.8" x2="520.24" y2="821" stroke="#000" stroke-width="1" />
<line x1="527.61" y1="817.8" x2="527.61" y2="821" stroke="#000" stroke-width="1" />
<line x1="534.99" y1="817.8" x2="534.99" y2="821" stroke="#000" stroke-width="1" />
<line x1="542.36" y1="817.8" x2="542.36" y2="821" stroke="#000" stroke-width="1" />
<line x1="549.73" y1="817.8" x2="549.73" y2="822.5" stroke="#000" stroke-width="1" />
<text x="549.73" y="840.2" font-size="13" text-anchor="middle" >130</text>
<line x1="557.1" y1="817.8" x2="557.1" y2="821" stroke="#000" stroke-width="1" />
<line x1="564.48" y1="817.8" x2="564.48" y2="821" stroke="#000" stroke-width="1" />
<line x1="571.85" y1="817.8" x2="571.85" y2="821" stroke="#000" stroke-width="1" />
<line x1="579.22" y1="817.8" x2="579.22" y2="821" stroke="#000" stroke-width="1" />
<text x="576.3" y="838.9" font-size="11.7" text-anchor="start" >Q [л/ч]</text>
<text x="0" y="0" font-size="10.3" text-anchor="start" transform="translate(637.8,860.5) rotate(-90)">NSC125-400_4P50_B_CH</text>
<path d="M142.2,136.5 C142.57,143.53 143.02,151.37 143.3,157.6 C143.58,163.83 143.9,167.57 143.9,173.9 C143.9,180.23 143.85,186.73 143.3,195.6 C142.75,204.47 141.5,218.22 140.6,227.1 C139.7,235.98 138.77,241.38 137.9,248.9 C137.03,256.42 136.23,264.43 135.4,272.2" stroke="#000" stroke-width="1.7" fill="none" stroke-dasharray="8.1,5.2" stroke-linecap="round"/>
<path d="M170.5,137.5 C171.2,144.2 172.07,151.53 172.6,157.6 C173.13,163.67 173.52,167.57 173.7,173.9 C173.88,180.23 174.33,186.73 173.7,195.6 C173.07,204.47 171.17,218.22 169.9,227.1 C168.63,235.98 167.25,241.38 166.1,248.9 C164.95,256.42 164.03,264.43 163,272.2" stroke="#000" stroke-width="1.7" fill="none" stroke-dasharray="8.1,5.2" stroke-linecap="round"/>
<path d="M188.4,137.5 C189.83,144.2 191.72,151.53 192.7,157.6 C193.68,163.67 193.93,167.57 194.3,173.9 C194.67,180.23 195.43,186.73 194.9,195.6 C194.37,204.47 192.47,218.22 191.1,227.1 C189.73,235.98 188.05,241.38 186.7,248.9 C185.35,256.42 184.23,264.43 183,272.2" stroke="#000" stroke-width="1.7" fill="none" stroke-dasharray="8.1,5.2" stroke-linecap="round"/>
<path d="M213,138.7 C214.43,144.47 215.85,150.23 217.3,156 C218.75,161.77 220.68,167.52 221.7,173.3 C222.72,179.08 223.2,184.92 223.4,190.7 C223.6,196.48 223.55,201.62 222.9,208 C222.25,214.38 220.63,222.95 219.5,229 C218.37,235.05 217.77,236.72 216.1,244.3 C214.43,251.88 211.7,264.43 209.5,274.5" stroke="#000" stroke-width="1.7" fill="none" stroke-dasharray="8.1,5.2" stroke-linecap="round"/>
<path d="M254.1,146.2 C256,152.37 257.98,158.15 259.8,164.7 C261.62,171.25 264.02,180.08 265,185.5 C265.98,190.92 265.67,192 265.7,197.2 C265.73,202.4 265.83,211.1 265.2,216.7 C264.57,222.3 262.85,226.92 261.9,230.8 C260.95,234.68 260.63,234.85 259.5,240 C258.37,245.15 256.82,254.75 255.1,261.7 C253.38,268.65 251.17,275.03 249.2,281.7" stroke="#000" stroke-width="1.7" fill="none" stroke-dasharray="8.1,5.2" stroke-linecap="round"/>
<path d="M300.3,160.8 C300,168.6 299.73,178.05 299.4,184.2 C299.07,190.35 298.75,192.28 298.3,197.7 C297.85,203.12 297.23,210.1 296.7,216.7 C296.17,223.3 295.48,230.7 295.1,237.3 C294.72,243.9 294.33,250.42 294.4,256.3 C294.47,262.18 294.97,267.17 295.5,272.6 C296.03,278.03 296.62,284.2 297.6,288.9 C298.58,293.6 300.13,297.55 301.4,300.8 C302.67,304.05 303.93,305.87 305.2,308.4" stroke="#000" stroke-width="1.7" fill="none" stroke-dasharray="8.1,5.2" stroke-linecap="round"/>
<path d="M305.2,308.4 C308.3,308.23 311.52,308.72 314.5,307.9 C317.48,307.08 320.85,304.68 323.1,303.5 C325.35,302.32 324,303.13 328,300.8 C332,298.47 340.28,293.1 347.1,289.5 C353.92,285.9 362.2,282.28 368.9,279.2 C375.6,276.12 381.72,273.37 387.3,271 C392.88,268.63 396.85,267.47 402.4,265 C407.95,262.53 413.53,259.02 420.6,256.2 C427.67,253.38 436.73,250.8 444.8,248.1" stroke="#000" stroke-width="1.7" fill="none" stroke-dasharray="8.1,5.2" stroke-linecap="round"/>
<path d="M355.3,340 C358.2,337.43 359.27,336.55 364,332.3 C368.73,328.05 378,319.55 383.7,314.5 C389.4,309.45 393.02,306.12 398.2,302 C403.38,297.88 409.97,292.77 414.8,289.8 C419.63,286.83 423.07,285.75 427.2,284.2 C431.33,282.65 435.47,281.53 439.6,280.5 C443.73,279.47 446.93,278.92 452,278 C457.07,277.08 464,276 470,275" stroke="#000" stroke-width="1.7" fill="none" stroke-dasharray="8.1,5.2" stroke-linecap="round"/>
<path d="M384.4,365.9 C389.43,362.37 395.23,358.7 399.5,355.3 C403.77,351.9 407.13,348.13 410,345.5 C412.87,342.87 413.83,341.95 416.7,339.5 C419.57,337.05 423.7,333.28 427.2,330.8 C430.7,328.32 435.02,326.2 437.7,324.6 C440.38,323 440.28,322.65 443.3,321.2 C446.32,319.75 451.45,317.52 455.8,315.9 C460.15,314.28 461.97,313.3 469.4,311.5 C476.83,309.7 490.07,307.23 500.4,305.1" stroke="#000" stroke-width="1.7" fill="none" stroke-dasharray="8.1,5.2" stroke-linecap="round"/>
<path d="M71.53,145.72 L72.78,145.47 L74.03,145.22 L75.27,144.97 L76.52,144.73 L77.77,144.49M85.53,143.07 L86.84,142.84 L88.14,142.61 L89.45,142.39 L90.76,142.17 L92.07,141.96M98.83,140.91 L100.56,140.66 L102.28,140.41 L104.02,140.17 L105.74,139.93 L107.47,139.7M113.23,138.98 L114.48,138.84 L115.73,138.7 L116.97,138.56 L118.22,138.42 L119.47,138.29M126.73,137.58 L128.3,137.45 L129.87,137.31 L131.44,137.19 L133,137.07 L134.57,136.95" stroke="#000" stroke-width="3.05" fill="none" stroke-linecap="round"/>
<path d="M139.5,136.63 L142.1,136.48 L144.69,136.34 L147.29,136.23 L149.89,136.12 L152.48,136.04 L155.08,135.97 L157.67,135.91 L160.27,135.87 L162.87,135.85 L165.46,135.84 L168.06,135.85 L170.66,135.87 L173.25,135.92 L175.85,135.97 L178.45,136.05 L181.04,136.14 L183.64,136.25 L186.24,136.37 L188.83,136.52 L191.43,136.68 L194.02,136.85 L196.62,137.05 L199.22,137.26 L201.81,137.48 L204.41,137.73 L207.01,137.99 L209.6,138.27 L212.2,138.57 L214.8,138.89 L217.39,139.22 L219.99,139.58 L222.58,139.95 L225.18,140.33 L227.78,140.74 L230.37,141.17 L232.97,141.61 L235.57,142.07 L238.16,142.55 L240.76,143.05 L243.36,143.57 L245.95,144.11 L248.55,144.67 L251.15,145.24 L253.74,145.84 L256.34,146.45 L258.93,147.08 L261.53,147.74 L264.13,148.41 L266.72,149.1 L269.32,149.81 L271.92,150.54 L274.51,151.3 L277.11,152.07 L279.71,152.86 L282.3,153.67 L284.9,154.5 L287.49,155.35 L290.09,156.23 L292.69,157.12 L295.28,158.03 L297.88,158.97 L300.48,159.92 L303.07,160.9 L305.67,161.9 L308.27,162.92 L310.86,163.96 L313.46,165.02 L316.06,166.1 L318.65,167.2 L321.25,168.33 L323.84,169.47 L326.44,170.64 L329.04,171.83 L331.63,173.04 L334.23,174.27 L336.83,175.52 L339.42,176.8 L342.02,178.1 L344.62,179.41 L347.21,180.75 L349.81,182.11 L352.41,183.5 L355,184.9 L357.6,186.32 L360.19,187.75 L362.79,189.21 L365.39,190.68 L367.98,192.17 L370.58,193.68 L373.18,195.2 L375.77,196.74 L378.37,198.29 L380.97,199.85 L383.56,201.43 L386.16,203.03 L388.75,204.64 L391.35,206.27 L393.95,207.93 L396.54,209.61 L399.14,211.32 L401.74,213.05 L404.33,214.82 L406.93,216.61 L409.53,218.45 L412.12,220.31 L414.72,222.22 L417.32,224.17 L419.91,226.16 L422.51,228.2 L425.1,230.28 L427.7,232.41 L430.3,234.59 L432.89,236.83 L435.49,239.12 L438.09,241.47 L440.68,243.86 L443.28,246.31 L445.88,248.81 L448.47,251.35 L451.07,253.93 L453.66,256.55 L456.26,259.21 L458.86,261.9 L461.45,264.63 L464.05,267.37 L466.65,270.14 L469.24,272.91 L471.84,275.7 L474.44,278.49 L477.03,281.28 L479.63,284.06 L482.23,286.82 L484.82,289.57 L487.42,292.3 L490.01,294.99 L492.61,297.66 L495.21,300.28 L497.8,302.86 L500.4,305.39" stroke="#000" stroke-width="3.05" fill="none" stroke-linejoin="round"/>
<path d="M71.9,204.69 L73.36,204.52 L74.82,204.35 L76.28,204.18 L77.74,204 L79.2,203.83M83.4,203.34 L84.98,203.15 L86.56,202.97 L88.14,202.79 L89.72,202.6 L91.3,202.42M96.7,201.8 L98.28,201.62 L99.86,201.45 L101.44,201.27 L103.02,201.09 L104.6,200.92M109.4,200.4 L110.86,200.25 L112.32,200.1 L113.78,199.95 L115.24,199.8 L116.7,199.65M122.7,199.06 L124.16,198.93 L125.62,198.79 L127.08,198.66 L128.54,198.53 L130,198.4" stroke="#000" stroke-width="1.8" fill="none" stroke-linecap="round"/>
<path d="M135,197.98 L137.38,197.79 L139.76,197.61 L142.13,197.44 L144.51,197.27 L146.89,197.12 L149.27,196.97 L151.64,196.83 L154.02,196.7 L156.4,196.59 L158.78,196.48 L161.15,196.38 L163.53,196.29 L165.91,196.21 L168.29,196.15 L170.67,196.09 L173.04,196.05 L175.42,196.02 L177.8,196 L180.18,195.99 L182.55,196 L184.93,196.02 L187.31,196.05 L189.69,196.1 L192.06,196.17 L194.44,196.24 L196.82,196.33 L199.2,196.44 L201.58,196.56 L203.95,196.7 L206.33,196.85 L208.71,197.02 L211.09,197.21 L213.46,197.41 L215.84,197.63 L218.22,197.87 L220.6,198.12 L222.97,198.4 L225.35,198.68 L227.73,198.99 L230.11,199.32 L232.49,199.66 L234.86,200.02 L237.24,200.41 L239.62,200.81 L242,201.23 L244.37,201.67 L246.75,202.12 L249.13,202.6 L251.51,203.1 L253.88,203.62 L256.26,204.16 L258.64,204.72 L261.02,205.31 L263.4,205.91 L265.77,206.54 L268.15,207.18 L270.53,207.85 L272.91,208.54 L275.28,209.26 L277.66,209.99 L280.04,210.75 L282.42,211.53 L284.79,212.34 L287.17,213.17 L289.55,214.02 L291.93,214.89 L294.31,215.8 L296.68,216.72 L299.06,217.67 L301.44,218.64 L303.82,219.64 L306.19,220.67 L308.57,221.72 L310.95,222.79 L313.33,223.89 L315.71,225.02 L318.08,226.17 L320.46,227.34 L322.84,228.53 L325.22,229.75 L327.59,231 L329.97,232.26 L332.35,233.55 L334.73,234.86 L337.1,236.2 L339.48,237.55 L341.86,238.93 L344.24,240.33 L346.62,241.76 L348.99,243.2 L351.37,244.67 L353.75,246.16 L356.13,247.68 L358.5,249.23 L360.88,250.8 L363.26,252.39 L365.64,254.01 L368.01,255.66 L370.39,257.34 L372.77,259.05 L375.15,260.79 L377.53,262.55 L379.9,264.35 L382.28,266.18 L384.66,268.04 L387.04,269.93 L389.41,271.85 L391.79,273.81 L394.17,275.79 L396.55,277.81 L398.92,279.86 L401.3,281.93 L403.68,284.03 L406.06,286.17 L408.44,288.32 L410.81,290.51 L413.19,292.72 L415.57,294.96 L417.95,297.22 L420.32,299.51 L422.7,301.82 L425.08,304.16 L427.46,306.51 L429.83,308.89 L432.21,311.3 L434.59,313.72 L436.97,316.16 L439.35,318.63 L441.72,321.11 L444.1,323.62 L446.48,326.14 L448.86,328.68 L451.23,331.24 L453.61,333.81 L455.99,336.4 L458.37,339.01 L460.74,341.63 L463.12,344.26 L465.5,346.91" stroke="#000" stroke-width="1.8" fill="none" stroke-linejoin="round"/>
<path d="M71.9,242.95 L73.36,242.9 L74.82,242.85 L76.28,242.79 L77.74,242.73 L79.2,242.66M84,242.43 L85.34,242.35 L86.68,242.28 L88.02,242.2 L89.36,242.12 L90.7,242.03M97.3,241.59 L98.76,241.49 L100.22,241.38 L101.68,241.28 L103.14,241.17 L104.6,241.06M110.6,240.59 L111.94,240.49 L113.28,240.38 L114.62,240.27 L115.96,240.16 L117.3,240.06M123.3,239.57 L124.76,239.46 L126.22,239.34 L127.68,239.22 L129.14,239.11 L130.6,238.99" stroke="#000" stroke-width="1.8" fill="none" stroke-linecap="round"/>
<path d="M135.1,238.65 L137.29,238.48 L139.49,238.32 L141.68,238.17 L143.87,238.02 L146.07,237.87 L148.26,237.73 L150.45,237.59 L152.65,237.47 L154.84,237.34 L157.04,237.23 L159.23,237.12 L161.42,237.02 L163.62,236.93 L165.81,236.85 L168,236.78 L170.2,236.72 L172.39,236.67 L174.58,236.63 L176.78,236.6 L178.97,236.59 L181.16,236.58 L183.36,236.59 L185.55,236.61 L187.74,236.65 L189.94,236.7 L192.13,236.76 L194.33,236.84 L196.52,236.93 L198.71,237.04 L200.91,237.17 L203.1,237.31 L205.29,237.46 L207.49,237.63 L209.68,237.82 L211.87,238.03 L214.07,238.25 L216.26,238.49 L218.45,238.74 L220.65,239.01 L222.84,239.3 L225.03,239.61 L227.23,239.94 L229.42,240.28 L231.62,240.64 L233.81,241.02 L236,241.42 L238.2,241.84 L240.39,242.28 L242.58,242.73 L244.78,243.21 L246.97,243.7 L249.16,244.22 L251.36,244.75 L253.55,245.31 L255.74,245.89 L257.94,246.49 L260.13,247.1 L262.32,247.74 L264.52,248.41 L266.71,249.09 L268.91,249.79 L271.1,250.52 L273.29,251.27 L275.49,252.04 L277.68,252.84 L279.87,253.65 L282.07,254.49 L284.26,255.35 L286.45,256.24 L288.65,257.14 L290.84,258.07 L293.03,259.02 L295.23,260 L297.42,261 L299.61,262.02 L301.81,263.06 L304,264.13 L306.19,265.22 L308.39,266.34 L310.58,267.47 L312.78,268.64 L314.97,269.82 L317.16,271.03 L319.36,272.26 L321.55,273.52 L323.74,274.8 L325.94,276.11 L328.13,277.44 L330.32,278.79 L332.52,280.17 L334.71,281.57 L336.9,283 L339.1,284.45 L341.29,285.93 L343.48,287.43 L345.68,288.96 L347.87,290.51 L350.07,292.08 L352.26,293.69 L354.45,295.31 L356.65,296.96 L358.84,298.64 L361.03,300.34 L363.23,302.07 L365.42,303.82 L367.61,305.59 L369.81,307.39 L372,309.22 L374.19,311.07 L376.39,312.94 L378.58,314.84 L380.77,316.76 L382.97,318.71 L385.16,320.69 L387.36,322.68 L389.55,324.71 L391.74,326.75 L393.94,328.82 L396.13,330.92 L398.32,333.04 L400.52,335.19 L402.71,337.36 L404.9,339.55 L407.1,341.77 L409.29,344.01 L411.48,346.28 L413.68,348.57 L415.87,350.89 L418.06,353.23 L420.26,355.6 L422.45,357.99 L424.65,360.4 L426.84,362.84 L429.03,365.3 L431.23,367.79 L433.42,370.3 L435.61,372.83 L437.81,375.39 L440,377.97" stroke="#000" stroke-width="1.8" fill="none" stroke-linejoin="round"/>
<path d="M71.9,277.95 L73.24,277.84 L74.58,277.72 L75.92,277.61 L77.26,277.5 L78.6,277.39M84,276.96 L85.34,276.86 L86.68,276.76 L88.02,276.65 L89.36,276.55 L90.7,276.45M97.3,275.98 L98.64,275.89 L99.98,275.8 L101.32,275.71 L102.66,275.63 L104,275.54M109.9,275.19 L111.4,275.11 L112.9,275.02 L114.4,274.95 L115.9,274.87 L117.4,274.8M123,274.55 L124.42,274.49 L125.84,274.44 L127.26,274.39 L128.68,274.34 L130.1,274.29" stroke="#000" stroke-width="1.8" fill="none" stroke-linecap="round"/>
<path d="M135.1,274.16 L137.09,274.11 L139.09,274.08 L141.08,274.05 L143.07,274.02 L145.07,274 L147.06,273.99 L149.05,273.99 L151.05,273.99 L153.04,274.01 L155.04,274.03 L157.03,274.05 L159.02,274.09 L161.02,274.13 L163.01,274.18 L165,274.24 L167,274.31 L168.99,274.38 L170.98,274.47 L172.98,274.56 L174.97,274.66 L176.96,274.78 L178.96,274.9 L180.95,275.03 L182.94,275.17 L184.94,275.32 L186.93,275.48 L188.93,275.65 L190.92,275.83 L192.91,276.02 L194.91,276.22 L196.9,276.43 L198.89,276.66 L200.89,276.89 L202.88,277.13 L204.87,277.39 L206.87,277.66 L208.86,277.94 L210.85,278.23 L212.85,278.53 L214.84,278.85 L216.83,279.17 L218.83,279.51 L220.82,279.86 L222.82,280.23 L224.81,280.61 L226.8,281 L228.8,281.4 L230.79,281.82 L232.78,282.25 L234.78,282.69 L236.77,283.15 L238.76,283.62 L240.76,284.1 L242.75,284.6 L244.74,285.11 L246.74,285.64 L248.73,286.19 L250.72,286.74 L252.72,287.31 L254.71,287.9 L256.71,288.5 L258.7,289.12 L260.69,289.75 L262.69,290.4 L264.68,291.07 L266.67,291.75 L268.67,292.44 L270.66,293.16 L272.65,293.89 L274.65,294.63 L276.64,295.39 L278.63,296.17 L280.63,296.97 L282.62,297.79 L284.61,298.62 L286.61,299.47 L288.6,300.34 L290.59,301.22 L292.59,302.13 L294.58,303.06 L296.58,304 L298.57,304.96 L300.56,305.95 L302.56,306.95 L304.55,307.98 L306.54,309.02 L308.54,310.08 L310.53,311.17 L312.52,312.28 L314.52,313.4 L316.51,314.55 L318.5,315.72 L320.5,316.92 L322.49,318.13 L324.48,319.37 L326.48,320.63 L328.47,321.91 L330.47,323.22 L332.46,324.55 L334.45,325.9 L336.45,327.28 L338.44,328.67 L340.43,330.1 L342.43,331.54 L344.42,333.02 L346.41,334.51 L348.41,336.03 L350.4,337.58 L352.39,339.14 L354.39,340.74 L356.38,342.36 L358.37,344 L360.37,345.67 L362.36,347.37 L364.36,349.09 L366.35,350.83 L368.34,352.61 L370.34,354.4 L372.33,356.23 L374.32,358.08 L376.32,359.96 L378.31,361.87 L380.3,363.8 L382.3,365.76 L384.29,367.74 L386.28,369.76 L388.28,371.8 L390.27,373.87 L392.26,375.97 L394.26,378.09 L396.25,380.25 L398.25,382.43 L400.24,384.64 L402.23,386.88 L404.23,389.15 L406.22,391.45 L408.21,393.77 L410.21,396.13 L412.2,398.52" stroke="#000" stroke-width="1.8" fill="none" stroke-linejoin="round"/>
<rect x="138" y="123" width="14.66" height="10" fill="#fff"/>
<text x="139.62" y="131.6" font-size="9.4">50</text>
<rect x="164.6" y="123" width="14.66" height="10" fill="#fff"/>
<text x="166.22" y="131.6" font-size="9.4">60</text>
<rect x="182.6" y="123.8" width="14.66" height="10" fill="#fff"/>
<text x="184.22" y="132.4" font-size="9.4">65</text>
<rect x="207" y="127" width="14.66" height="10" fill="#fff"/>
<text x="208.62" y="135.6" font-size="9.4">70</text>
<rect x="246" y="133" width="14.66" height="10" fill="#fff"/>
<text x="247.62" y="141.6" font-size="9.4">75</text>
<rect x="298.5" y="147.7" width="14.66" height="10" fill="#fff"/>
<text x="300.12" y="156.3" font-size="9.4">78</text>
<rect x="387.3" y="190.4" width="22.5" height="10" fill="#fff"/>
<text x="388.92" y="199" font-size="9.4">79.9</text>
<rect x="348" y="229.9" width="22.5" height="10" fill="#fff"/>
<text x="349.62" y="238.5" font-size="9.4">79.1</text>
<rect x="319.5" y="262.8" width="22.5" height="10" fill="#fff"/>
<text x="321.12" y="271.4" font-size="9.4">78.8</text>
<rect x="304" y="295.3" width="14.66" height="10" fill="#fff"/>
<text x="305.62" y="303.9" font-size="9.4">78</text>
<rect x="444.1" y="235.8" width="14.66" height="10" fill="#fff"/>
<text x="445.72" y="244.4" font-size="9.4">78</text>
<rect x="474" y="263.7" width="14.66" height="10" fill="#fff"/>
<text x="475.62" y="272.3" font-size="9.4">75</text>
<rect x="501.2" y="294.1" width="14.66" height="10" fill="#fff"/>
<text x="502.82" y="302.7" font-size="9.4">70</text>
<rect x="429.5" y="355" width="14.66" height="10" fill="#fff"/>
<text x="431.12" y="363.6" font-size="9.4">65</text>
<rect x="503.7" y="306.8" width="62.41" height="12.6" fill="#fff"/>
<text x="504.78" y="317" font-size="10.4">125-400/750</text>
<rect x="468.4" y="338.4" width="62.41" height="12.6" fill="#fff"/>
<text x="469.48" y="348.6" font-size="10.4">125-400/550</text>
<rect x="451.7" y="371.6" width="62.41" height="12.6" fill="#fff"/>
<text x="452.78" y="381.8" font-size="10.4">125-400/450</text>
<rect x="418.1" y="389.2" width="62.41" height="12.6" fill="#fff"/>
<text x="419.18" y="399.4" font-size="10.4">125-400/370</text>
<rect x="352.1" y="494.7" width="62.41" height="12.6" fill="#fff"/>
<text x="353.18" y="504.9" font-size="10.4">125-400/370</text>
<rect x="475.9" y="464.3" width="62.41" height="12.6" fill="#fff"/>
<text x="476.98" y="474.5" font-size="10.4">125-400/750</text>
<rect x="504.9" y="604.6" width="62.41" height="12.6" fill="#fff"/>
<text x="505.98" y="614.8" font-size="10.4">125-400/750</text>
<rect x="469.3" y="634.4" width="62.41" height="12.6" fill="#fff"/>
<text x="470.38" y="644.6" font-size="10.4">125-400/550</text>
<rect x="451.3" y="657.6" width="62.41" height="12.6" fill="#fff"/>
<text x="452.38" y="667.8" font-size="10.4">125-400/450</text>
<rect x="420.3" y="681.6" width="62.41" height="12.6" fill="#fff"/>
<text x="421.38" y="691.8" font-size="10.4">125-400/370</text>
<circle cx="384.2" cy="201.6" r="2.6" fill="#000"/>
<circle cx="345.5" cy="240.6" r="2.6" fill="#000"/>
<circle cx="318.3" cy="271.5" r="2.6" fill="#000"/>
<circle cx="305.2" cy="308.4" r="2.6" fill="#000"/>
<rect x="385" y="147.4" width="30" height="13" fill="#fff"/>
<text x="385.9" y="157.2" font-size="12" font-weight="bold">η</text>
<text x="396.9" y="157.6" font-size="10.7">[%]</text>
<path d="M135.6,560.96 L138.67,560.68 L141.74,560.4 L144.81,560.12" stroke="#000" stroke-width="2.4" fill="none"/>
<path d="M144.81,560.12 L147.88,559.83 L150.95,559.53 L154.02,559.23 L157.09,558.92 L160.16,558.61 L163.24,558.29 L166.31,557.97 L169.38,557.65 L172.45,557.32 L175.52,556.98 L178.59,556.64 L181.66,556.3 L184.73,555.95 L187.8,555.6 L190.87,555.25 L193.94,554.89 L197.01,554.53 L200.08,554.16 L203.15,553.79 L206.22,553.42 L209.29,553.05 L212.36,552.67 L215.44,552.29 L218.51,551.9 L221.58,551.52 L224.65,551.13 L227.72,550.73 L230.79,550.34 L233.86,549.94 L236.93,549.54 L240,549.14 L243.07,548.74 L246.14,548.34 L249.21,547.93 L252.28,547.52 L255.35,547.11 L258.42,546.7 L261.49,546.29 L264.56,545.88 L267.64,545.46 L270.71,545.05 L273.78,544.63 L276.85,544.22 L279.92,543.8 L282.99,543.38 L286.06,542.96 L289.13,542.54 L292.2,542.13 L295.27,541.71 L298.34,541.29 L301.41,540.87 L304.48,540.45 L307.55,540.03 L310.62,539.62 L313.69,539.2 L316.76,538.78 L319.84,538.37 L322.91,537.96 L325.98,537.54 L329.05,537.13 L332.12,536.72 L335.19,536.31 L338.26,535.9 L341.33,535.49 L344.4,535.09 L347.47,534.68 L350.54,534.26 L353.61,533.85 L356.68,533.42 L359.75,532.99 L362.82,532.56 L365.89,532.11 L368.96,531.66 L372.04,531.19 L375.11,530.71 L378.18,530.22 L381.25,529.71 L384.32,529.19 L387.39,528.65 L390.46,528.09 L393.53,527.51 L396.6,526.91 L399.67,526.3 L402.74,525.65 L405.81,524.99 L408.88,524.29 L411.95,523.58 L415.02,522.83 L418.09,522.06 L421.16,521.25 L424.24,520.42 L427.31,519.55 L430.38,518.65 L433.45,517.7 L436.52,516.72 L439.59,515.7 L442.66,514.63 L445.73,513.52 L448.8,512.36 L451.87,511.15 L454.94,509.89 L458.01,508.57 L461.08,507.2 L464.15,505.77 L467.22,504.28 L470.29,502.73 L473.36,501.11 L476.44,499.43 L479.51,497.67 L482.58,495.85 L485.65,493.95 L488.72,491.98 L491.79,489.93 L494.86,487.81 L497.93,485.6 L501,483.31" stroke="#000" stroke-width="2.9" fill="none" stroke-linejoin="round"/>
<path d="M370,531.9 L373.28,531.48 L376.55,531.03 L379.83,530.58 L383.11,530.1 L386.38,529.61 L389.66,529.1 L392.94,528.56 L396.22,528.01 L399.49,527.42 L402.77,526.82 L406.05,526.18 L409.32,525.52 L412.6,524.82" stroke="#000" stroke-width="1.8" fill="none" stroke-linejoin="round"/>
<path d="M71.23,741.01 L72.54,740.65 L73.84,740.29 L75.16,739.93 L76.46,739.56 L77.77,739.19M85.53,736.9 L86.72,736.54 L87.91,736.17 L89.09,735.8 L90.28,735.43 L91.47,735.05M99.12,732.56 L100.39,732.14 L101.66,731.71 L102.94,731.28 L104.2,730.85 L105.47,730.41M113.43,727.62 L114.74,727.15 L116.05,726.68 L117.36,726.2 L118.66,725.72 L119.97,725.25M127.33,722.51 L128.63,722.02 L129.94,721.52 L131.25,721.02 L132.56,720.52 L133.88,720.02" stroke="#000" stroke-width="3.05" fill="none" stroke-linecap="round"/>
<path d="M139.8,717.72 L143.46,716.29 L147.12,714.85 L150.78,713.39 L154.43,711.92 L158.09,710.45 L161.75,708.97 L165.41,707.48 L169.07,705.99 L172.73,704.49 L176.39,702.99 L180.04,701.49 L183.7,699.98 L187.36,698.47 L191.02,696.96 L194.68,695.46 L198.34,693.95 L202,692.44 L205.65,690.94 L209.31,689.44 L212.97,687.95 L216.63,686.46 L220.29,684.98 L223.95,683.5 L227.61,682.03 L231.26,680.56 L234.92,679.11 L238.58,677.66 L242.24,676.22 L245.9,674.79 L249.56,673.38 L253.22,671.97 L256.87,670.57 L260.53,669.19 L264.19,667.82 L267.85,666.46 L271.51,665.11 L275.17,663.78 L278.83,662.45 L282.48,661.15 L286.14,659.86 L289.8,658.58 L293.46,657.32 L297.12,656.07 L300.78,654.84 L304.44,653.62 L308.09,652.42 L311.75,651.24 L315.41,650.07 L319.07,648.92 L322.73,647.78 L326.39,646.67 L330.05,645.56 L333.71,644.48 L337.36,643.41 L341.02,642.36 L344.68,641.33 L348.34,640.31 L352,639.31 L355.66,638.33 L359.32,637.36 L362.97,636.41 L366.63,635.48 L370.29,634.56 L373.95,633.66 L377.61,632.78 L381.27,631.91 L384.93,631.06 L388.58,630.23 L392.24,629.41 L395.9,628.6 L399.56,627.81 L403.22,627.04 L406.88,626.28 L410.54,625.53 L414.19,624.8 L417.85,624.08 L421.51,623.37 L425.17,622.68 L428.83,622 L432.49,621.33 L436.15,620.67 L439.8,620.03 L443.46,619.39 L447.12,618.76 L450.78,618.15 L454.44,617.54 L458.1,616.94 L461.76,616.34 L465.41,615.76 L469.07,615.18 L472.73,614.6 L476.39,614.04 L480.05,613.47 L483.71,612.91 L487.37,612.35 L491.02,611.8 L494.68,611.25 L498.34,610.69 L502,610.14" stroke="#000" stroke-width="3.05" fill="none" stroke-linejoin="round"/>
<path d="M71.2,743.41 L72.62,743.16 L74.04,742.91 L75.46,742.65 L76.88,742.38 L78.3,742.11M83.8,740.99 L85.22,740.68 L86.64,740.37 L88.06,740.06 L89.48,739.74 L90.9,739.41M96.4,738.09 L97.82,737.74 L99.24,737.38 L100.66,737.02 L102.08,736.65 L103.5,736.28M109,734.79 L110.42,734.39 L111.84,734 L113.26,733.59 L114.68,733.19 L116.1,732.78M121.6,731.15 L123.02,730.72 L124.44,730.29 L125.86,729.86 L127.28,729.42 L128.7,728.98" stroke="#000" stroke-width="1.8" fill="none" stroke-linecap="round"/>
<path d="M133.3,727.53 L136.65,726.45 L140,725.36 L143.35,724.26 L146.7,723.14 L150.05,722.02 L153.4,720.88 L156.75,719.73 L160.1,718.58 L163.45,717.42 L166.81,716.25 L170.16,715.07 L173.51,713.89 L176.86,712.71 L180.21,711.52 L183.56,710.33 L186.91,709.14 L190.26,707.94 L193.61,706.75 L196.96,705.56 L200.31,704.37 L203.66,703.18 L207.01,701.99 L210.36,700.81 L213.71,699.63 L217.06,698.46 L220.41,697.29 L223.76,696.12 L227.11,694.97 L230.46,693.82 L233.82,692.67 L237.17,691.54 L240.52,690.41 L243.87,689.29 L247.22,688.19 L250.57,687.09 L253.92,686 L257.27,684.92 L260.62,683.85 L263.97,682.8 L267.32,681.75 L270.67,680.72 L274.02,679.7 L277.37,678.69 L280.72,677.69 L284.07,676.71 L287.42,675.74 L290.77,674.78 L294.12,673.84 L297.47,672.91 L300.83,672 L304.18,671.09 L307.53,670.21 L310.88,669.33 L314.23,668.47 L317.58,667.63 L320.93,666.79 L324.28,665.98 L327.63,665.17 L330.98,664.38 L334.33,663.61 L337.68,662.85 L341.03,662.1 L344.38,661.37 L347.73,660.65 L351.08,659.94 L354.43,659.25 L357.78,658.57 L361.13,657.9 L364.48,657.25 L367.84,656.6 L371.19,655.97 L374.54,655.36 L377.89,654.75 L381.24,654.15 L384.59,653.57 L387.94,653 L391.29,652.43 L394.64,651.88 L397.99,651.33 L401.34,650.8 L404.69,650.27 L408.04,649.75 L411.39,649.24 L414.74,648.73 L418.09,648.23 L421.44,647.74 L424.79,647.25 L428.14,646.77 L431.49,646.29 L434.85,645.82 L438.2,645.34 L441.55,644.87 L444.9,644.4 L448.25,643.93 L451.6,643.46 L454.95,642.99 L458.3,642.52 L461.65,642.05 L465,641.57" stroke="#000" stroke-width="1.8" fill="none" stroke-linejoin="round"/>
<path d="M71.2,747.87 L72.62,747.74 L74.04,747.6 L75.46,747.46 L76.88,747.3 L78.3,747.14M83.8,746.42 L85.22,746.22 L86.64,746.01 L88.06,745.79 L89.48,745.56 L90.9,745.33M96.4,744.36 L97.82,744.09 L99.24,743.81 L100.66,743.53 L102.08,743.25 L103.5,742.95M109,741.76 L110.42,741.44 L111.84,741.11 L113.26,740.78 L114.68,740.45 L116.1,740.1M121.6,738.73 L123.02,738.37 L124.44,738 L125.86,737.62 L127.28,737.25 L128.7,736.86" stroke="#000" stroke-width="1.8" fill="none" stroke-linecap="round"/>
<path d="M133.3,735.6 L136.39,734.73 L139.49,733.84 L142.58,732.94 L145.68,732.02 L148.77,731.1 L151.86,730.16 L154.96,729.2 L158.05,728.24 L161.15,727.28 L164.24,726.3 L167.33,725.32 L170.43,724.33 L173.52,723.33 L176.62,722.34 L179.71,721.33 L182.8,720.33 L185.9,719.32 L188.99,718.32 L192.08,717.31 L195.18,716.3 L198.27,715.3 L201.37,714.3 L204.46,713.3 L207.55,712.3 L210.65,711.31 L213.74,710.32 L216.84,709.33 L219.93,708.36 L223.02,707.38 L226.12,706.42 L229.21,705.46 L232.31,704.51 L235.4,703.57 L238.49,702.64 L241.59,701.71 L244.68,700.8 L247.78,699.9 L250.87,699 L253.96,698.12 L257.06,697.25 L260.15,696.39 L263.25,695.54 L266.34,694.7 L269.43,693.87 L272.53,693.06 L275.62,692.26 L278.72,691.47 L281.81,690.69 L284.9,689.93 L288,689.18 L291.09,688.44 L294.18,687.72 L297.28,687.01 L300.37,686.31 L303.47,685.63 L306.56,684.96 L309.65,684.3 L312.75,683.66 L315.84,683.02 L318.94,682.41 L322.03,681.8 L325.12,681.21 L328.22,680.63 L331.31,680.06 L334.41,679.51 L337.5,678.96 L340.59,678.43 L343.69,677.91 L346.78,677.4 L349.88,676.91 L352.97,676.42 L356.06,675.94 L359.16,675.48 L362.25,675.02 L365.35,674.57 L368.44,674.13 L371.53,673.7 L374.63,673.28 L377.72,672.86 L380.82,672.45 L383.91,672.05 L387,671.65 L390.1,671.26 L393.19,670.88 L396.28,670.49 L399.38,670.11 L402.47,669.74 L405.57,669.36 L408.66,668.99 L411.75,668.62 L414.85,668.24 L417.94,667.87 L421.04,667.5 L424.13,667.12 L427.22,666.74 L430.32,666.35 L433.41,665.96 L436.51,665.57 L439.6,665.17" stroke="#000" stroke-width="1.8" fill="none" stroke-linejoin="round"/>
<path d="M71.2,754.36 L72.56,754.2 L73.92,754.03 L75.28,753.86 L76.64,753.69 L78,753.5M83.8,752.64 L85.16,752.43 L86.52,752.2 L87.88,751.98 L89.24,751.74 L90.6,751.5M96.4,750.42 L97.76,750.15 L99.12,749.88 L100.48,749.61 L101.84,749.33 L103.2,749.04M109,747.77 L110.36,747.47 L111.72,747.16 L113.08,746.84 L114.44,746.52 L115.8,746.2M121.6,744.79 L122.96,744.45 L124.32,744.1 L125.68,743.76 L127.04,743.41 L128.4,743.06" stroke="#000" stroke-width="1.8" fill="none" stroke-linecap="round"/>
<path d="M133.3,741.77 L136.12,741.02 L138.94,740.25 L141.76,739.48 L144.58,738.7 L147.4,737.91 L150.22,737.12 L153.03,736.32 L155.85,735.52 L158.67,734.71 L161.49,733.9 L164.31,733.08 L167.13,732.26 L169.95,731.44 L172.77,730.62 L175.59,729.8 L178.41,728.97 L181.23,728.15 L184.05,727.33 L186.86,726.51 L189.68,725.69 L192.5,724.88 L195.32,724.06 L198.14,723.25 L200.96,722.45 L203.78,721.64 L206.6,720.85 L209.42,720.05 L212.24,719.27 L215.06,718.49 L217.88,717.71 L220.69,716.94 L223.51,716.18 L226.33,715.42 L229.15,714.68 L231.97,713.94 L234.79,713.21 L237.61,712.48 L240.43,711.77 L243.25,711.06 L246.07,710.36 L248.89,709.67 L251.71,709 L254.53,708.33 L257.34,707.67 L260.16,707.02 L262.98,706.38 L265.8,705.75 L268.62,705.13 L271.44,704.52 L274.26,703.92 L277.08,703.33 L279.9,702.76 L282.72,702.19 L285.54,701.63 L288.36,701.09 L291.17,700.55 L293.99,700.03 L296.81,699.52 L299.63,699.01 L302.45,698.52 L305.27,698.04 L308.09,697.57 L310.91,697.11 L313.73,696.66 L316.55,696.21 L319.37,695.78 L322.19,695.36 L325.01,694.95 L327.82,694.55 L330.64,694.15 L333.46,693.77 L336.28,693.39 L339.1,693.03 L341.92,692.67 L344.74,692.32 L347.56,691.98 L350.38,691.64 L353.2,691.31 L356.02,690.99 L358.84,690.68 L361.65,690.37 L364.47,690.07 L367.29,689.77 L370.11,689.48 L372.93,689.19 L375.75,688.91 L378.57,688.63 L381.39,688.35 L384.21,688.08 L387.03,687.81 L389.85,687.54 L392.67,687.27 L395.48,687.01 L398.3,686.74 L401.12,686.48 L403.94,686.21 L406.76,685.94 L409.58,685.67 L412.4,685.4" stroke="#000" stroke-width="1.8" fill="none" stroke-linejoin="round"/></svg></body></html>
